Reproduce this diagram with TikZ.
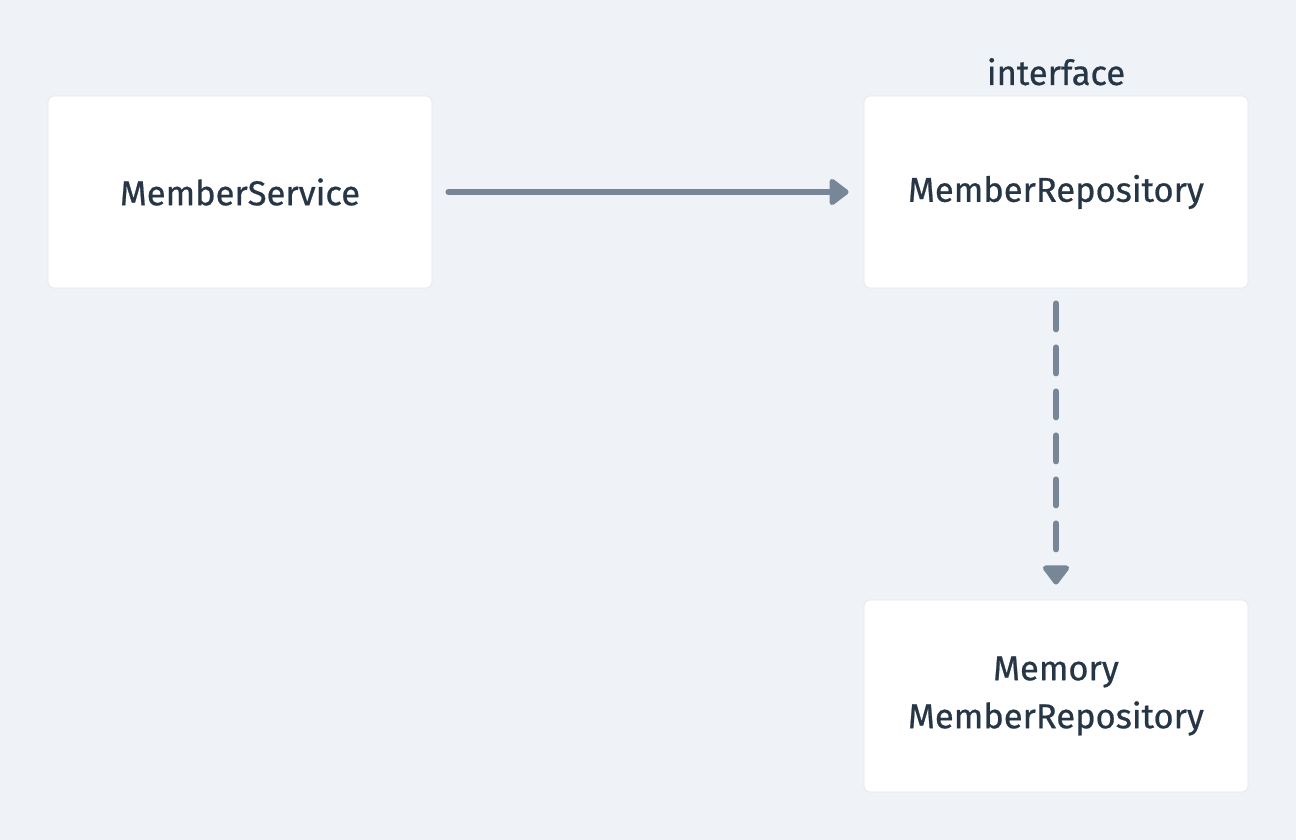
\documentclass[tikz,border=0pt]{standalone}
\usepackage{fontspec}
\setmainfont{Fira Sans}[FakeBold=0.6]
\usetikzlibrary{arrows.meta}
\definecolor{bg}{HTML}{EFF3F7}
\definecolor{txt}{HTML}{263646}
\definecolor{conn}{HTML}{778797}
\definecolor{edge}{HTML}{E2E7EC}
\tikzset{
  box/.style={draw=edge, line width=0.8pt, fill=white, rounded corners=6pt, minimum width=384pt, minimum height=192pt, inner sep=0pt, align=center, text=txt, font=\fontsize{34.5}{48}\selectfont},
  lbl/.style={text=txt, font=\fontsize{34.5}{36}\selectfont, inner sep=0pt},
  conline/.style={draw=conn, line width=6pt, line cap=round, -{Triangle[length=21pt,width=30pt,round]}},
}
\begin{document}
\begin{tikzpicture}[x=1pt,y=-1pt]
\fill[bg] (0,0) rectangle (1296,840);
\useasboundingbox (0,0) rectangle (1296,840);
\node[box] (svc) at (240,192) {MemberService};
\node[box] (repo) at (1056,192) {MemberRepository};
\node[box] (mem) at (1056,696) {Memory\\MemberRepository};
\node[lbl, anchor=base] (iface) at (1056,85) {interface};
\draw[conline] ([xshift=16pt]svc.east) -- ([xshift=-15pt]repo.west);
\draw[conline, dash pattern=on 26pt off 18pt] ([yshift=-15pt]repo.south) -- ([yshift=15pt]mem.north);
\end{tikzpicture}
\end{document}
